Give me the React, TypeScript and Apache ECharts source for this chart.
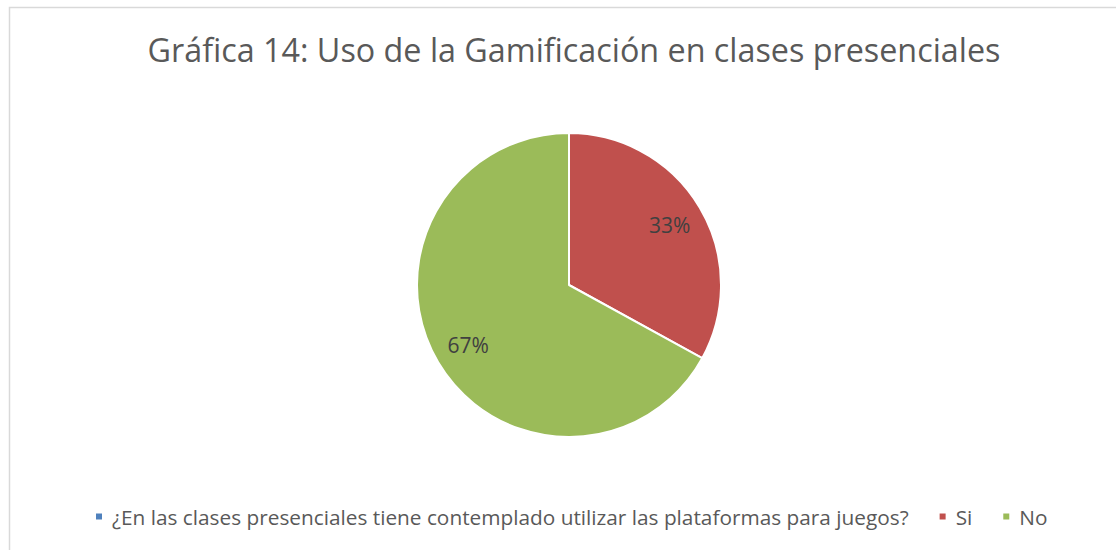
import React, { useEffect, useRef } from "react";
import * as echarts from "echarts";

const titleText = "Gráfica 14: Uso de la Gamificación en clases presenciales";
const categories = [
  "¿En las clases presenciales tiene contemplado utilizar las plataformas para juegos?",
  "Si",
  "No",
];
const values = [0, 33, 67];
const colors = ["#4f81bd", "#c0504d", "#9bbb59"];

export default function App() {
  const ref = useRef<HTMLDivElement>(null);
  useEffect(() => {
    const chart = echarts.init(ref.current!, null, { renderer: "svg" });
    const data = categories.map((name, i) => ({
      name,
      value: values[i],
      itemStyle: { color: colors[i] },
    }));
    const labelData = categories.map((name, i) => ({ name, value: values[i] }));
    chart.setOption({
      animation: false,
      backgroundColor: "#ffffff",
      title: {
        text: titleText,
        left: 569,
        top: 28,
        textAlign: "center",
        textStyle: {
          fontFamily: "Open Sans",
          fontSize: 32.3,
          fontWeight: "normal",
          color: "#595959",
        },
      },
      legend: {
        left: 94,
        top: 506,
        padding: 0,
        icon: "rect",
        itemWidth: 8,
        itemHeight: 8,
        itemGap: 29,
        selectedMode: false,
        textStyle: { fontFamily: "Open Sans", fontSize: 20.8, color: "#595959", padding: [0, 0, 0, 4] },
        data: categories,
      },
      graphic: [
        {
          type: "polyline",
          shape: { points: [[9.5, 550], [9.5, 7.5], [1116, 7.5]] },
          style: { stroke: "#d9d9d9", lineWidth: 1.5, fill: "none" },
          silent: true,
        },
      ],
      series: [
        {
          type: "pie",
          center: [569, 285],
          radius: [0, 152],
          startAngle: 90,
          clockwise: true,
          label: { show: false },
          labelLine: { show: false },
          emphasis: { disabled: true },
          itemStyle: { borderColor: "#ffffff", borderWidth: 2 },
          data,
        },
        {
          type: "pie",
          center: [569, 285],
          radius: [76, 152],
          startAngle: 90,
          clockwise: true,
          silent: true,
          legendHoverLink: false,
          emphasis: { disabled: true },
          itemStyle: { color: "rgba(0,0,0,0)", borderWidth: 0 },
          label: {
            show: true,
            position: "inside",
            fontFamily: "Open Sans",
            fontSize: 21,
            color: "#404040",
            formatter: (p: any) => (p.value > 0 ? Math.round(p.percent) + "%" : ""),
          },
          labelLine: { show: false },
          data: labelData,
        },
      ],
    });
    return () => chart.dispose();
  }, []);
  return (
    <div
      ref={ref}
      style={{ position: "fixed", left: 0, top: 0, width: 1116, height: 550, background: "#fff" }}
    />
  );
}
